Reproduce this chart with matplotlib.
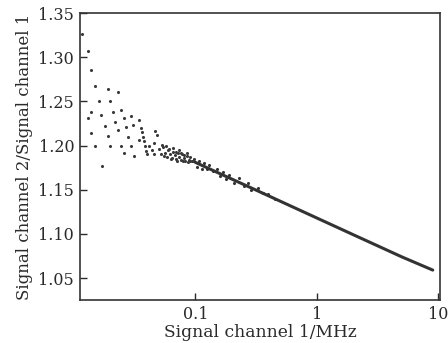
import numpy as np
import matplotlib
matplotlib.use("Agg")
import matplotlib.pyplot as plt
from matplotlib.ticker import FixedLocator, FixedFormatter, NullLocator

# sparse scatter at low frequency
scatter_x = [0.0117, 0.0131, 0.01396, 0.01486, 0.0191, 0.0231, 0.016, 0.020,
             0.0245, 0.01396, 0.0131, 0.01686, 0.0209, 0.01794, 0.022, 0.0257,
             0.0297, 0.0346, 0.01396, 0.0191, 0.0231, 0.0269, 0.031, 0.0282,
             0.01486, 0.020, 0.0245, 0.0297, 0.0257, 0.0316, 0.0171, 0.0341,
             0.0355, 0.0362, 0.0370, 0.0378, 0.0386, 0.0395, 0.0402,
             0.042, 0.044, 0.046, 0.048, 0.047, 0.0455,
             0.050, 0.052, 0.054, 0.056, 0.058, 0.060, 0.062, 0.064, 0.066,
             0.068, 0.070, 0.072, 0.074, 0.076, 0.078, 0.080, 0.082, 0.085,
             0.088, 0.091, 0.094, 0.097, 0.053, 0.057, 0.061, 0.065, 0.069,
             0.073, 0.077, 0.081, 0.086, 0.090, 0.055, 0.063, 0.071, 0.079,
             0.087, 0.095]
scatter_y = [1.326, 1.307, 1.285, 1.267, 1.264, 1.261, 1.250, 1.250,
             1.2405, 1.2385, 1.231, 1.235, 1.2375, 1.2225, 1.227, 1.231,
             1.233, 1.2285, 1.214, 1.211, 1.218, 1.2215, 1.2235, 1.210,
             1.200, 1.200, 1.200, 1.200, 1.192, 1.188, 1.177, 1.206,
             1.220, 1.215, 1.210, 1.205, 1.199, 1.194, 1.190,
             1.200, 1.195, 1.203, 1.212, 1.217, 1.190,
             1.196, 1.190, 1.198, 1.192, 1.187, 1.195, 1.190, 1.186, 1.193,
             1.189, 1.185, 1.191, 1.187, 1.184, 1.190, 1.186, 1.183, 1.188,
             1.184, 1.187, 1.182, 1.185, 1.201, 1.199, 1.196, 1.197, 1.193,
             1.195, 1.192, 1.189, 1.191, 1.183, 1.188, 1.185, 1.183, 1.182,
             1.181, 1.182]

# dense part, drawn as a thick trace
line_x = [0.1, 0.2, 0.3, 0.5, 1.0, 2.0, 5.0, 9.0]
line_y = [1.181, 1.162, 1.151, 1.137, 1.118, 1.099, 1.074, 1.059]

# jitter visible around the dense trace
noise_x = [0.103, 0.108, 0.113, 0.118, 0.125, 0.13, 0.14, 0.15, 0.16, 0.17,
           0.18, 0.19, 0.21, 0.23, 0.25, 0.27, 0.29, 0.33, 0.36, 0.4, 0.45]
noise_y = [1.176, 1.183, 1.174, 1.180, 1.173, 1.178, 1.171, 1.174, 1.166, 1.170,
           1.162, 1.167, 1.158, 1.163, 1.154, 1.158, 1.150, 1.152, 1.146, 1.145, 1.140]

plt.rcParams['font.family'] = ['DejaVu Serif']

fig = plt.figure(figsize=(4.48, 3.43), dpi=100)
ax = fig.add_axes([0.178, 0.125, 0.805, 0.837])

ax.plot(line_x, line_y, color='#333333', lw=2.2, solid_capstyle='round')
ax.scatter(scatter_x, scatter_y, s=5, color='#3a3a3a', linewidths=0)
ax.scatter(noise_x, noise_y, s=5, color='#333333', linewidths=0)

ax.set_xscale('log')
ax.set_xlim(0.0112, 10.4)
ax.set_ylim(1.025, 1.35)

ax.xaxis.set_major_locator(FixedLocator([0.1, 1, 10]))
ax.xaxis.set_major_formatter(FixedFormatter(['0.1', '1', '10']))
ax.xaxis.set_minor_locator(NullLocator())
ax.set_yticks([1.05, 1.10, 1.15, 1.20, 1.25, 1.30, 1.35])
ax.set_yticklabels(['1.05', '1.10', '1.15', '1.20', '1.25', '1.30', '1.35'])

ax.tick_params(direction='in', length=5, width=1, labelsize=11.5, colors='#2a2a2a', pad=4)
ax.set_xlabel('Signal channel 1/MHz', fontsize=12.3, labelpad=1, color='#2a2a2a')
ax.set_ylabel('Signal channel 2/Signal channel 1', fontsize=12, labelpad=4, color='#2a2a2a')
for s in ax.spines.values():
    s.set_linewidth(1.2)
    s.set_color('#333333')

fig.savefig('out.png', dpi=100)
